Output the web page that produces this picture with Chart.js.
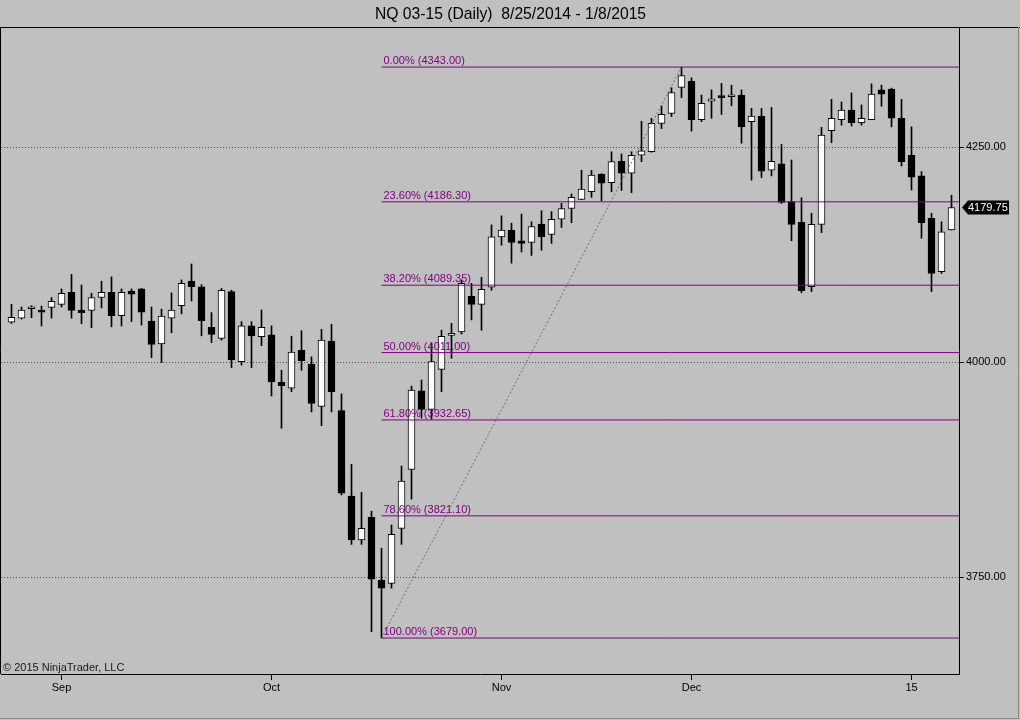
<!DOCTYPE html>
<html>
<head>
<meta charset="utf-8">
<script src="https://cdn.jsdelivr.net/npm/chart.js@4.4.1/dist/chart.umd.min.js"></script>
<style>
  html, body { margin: 0; padding: 0; background: #c0c0c0; }
  #wrap { width: 1020px; height: 720px; }
</style>
</head>
<body>
<div id="wrap"><canvas id="nqChart" width="1020" height="720"></canvas></div>
<script>
// NQ 03-15 daily bars, 8/25/2014 - 1/8/2015 (one entry per session)
const opens = [
  4046.5, 4051, 4062, 4060.5, 4063.5, 4067, 4081, 4060.5, 4060, 4075,
  4081, 4054, 4082.5, 4085, 4047.5, 4021, 4051, 4065.5, 4094, 4087.5,
  4040.5, 4027.5, 4082, 4000.5, 4042, 4029.5, 4031.5, 3976.5, 3969.5, 4014,
  3997.5, 3948.5, 4024.5, 3943.5, 3844, 3793, 3819.5, 3746.5, 3742.5, 3806.5,
  3875, 3966.5, 3945, 3991.5, 4031, 4035, 4076.5, 4067, 4087, 4145.5,
  4153.5, 4141, 4139, 4160.5, 4148.5, 4166, 4178.5, 4189, 4198, 4218.5,
  4208.5, 4233.5, 4219.5, 4240.5, 4244.5, 4277.5, 4289, 4319.5, 4326.5, 4282,
  4303.5, 4309, 4308.5, 4310.5, 4279.5, 4286, 4223, 4230.5, 4186.5, 4162.5,
  4087.5, 4160, 4269, 4282, 4293, 4278.5, 4282, 4316.5, 4317.5, 4283.5,
  4240.5, 4216.5, 4167, 4105, 4153.5
];
const highs = [
  4067, 4064, 4065.5, 4065, 4075, 4085, 4102, 4089.5, 4080, 4094,
  4099, 4085, 4085, 4085.5, 4064, 4061.5, 4080.5, 4095.5, 4114, 4090,
  4057.5, 4085.5, 4083.5, 4047, 4047, 4060.5, 4042, 3990.5, 4030, 4036.5,
  4006, 4038, 4044, 3963, 3881, 3848.5, 3826.5, 3783.5, 3810.5, 3879,
  3972, 3979, 4021.5, 4037, 4045, 4095.5, 4091.5, 4098.5, 4159.5, 4170,
  4161.5, 4172, 4163, 4176, 4175, 4184.5, 4195.5, 4223, 4223, 4219,
  4244.5, 4242, 4244.5, 4280, 4283.5, 4298, 4319, 4343, 4330.5, 4310.5,
  4316.5, 4324, 4322, 4316.5, 4295, 4295, 4296, 4253, 4235, 4191,
  4173, 4273, 4305.5, 4302.5, 4313, 4299, 4323.5, 4322, 4318.5, 4305.5,
  4273.5, 4221.5, 4173, 4163, 4194
];
const lows = [
  4045, 4050, 4051.5, 4042, 4051, 4064, 4051, 4044.5, 4040, 4063,
  4041, 4042, 4047, 4043, 4005, 3999.5, 4034, 4056, 4071, 4030.5,
  4022.5, 4025.5, 3993.5, 3996.5, 3993.5, 4019, 3960.5, 3923, 3965.5, 3990.5,
  3942, 3926, 3942, 3845.5, 3788, 3788, 3686.5, 3679, 3737, 3788,
  3840.5, 3935, 3933.5, 3965.5, 4004.5, 4032.5, 4049, 4037, 4083.5, 4136,
  4115, 4128, 4124, 4130, 4138, 4156.5, 4162, 4189, 4191.5, 4187.5,
  4198, 4199.5, 4197, 4233, 4244, 4271.5, 4285.5, 4307.5, 4268.5, 4279.5,
  4283.5, 4288, 4298, 4254.5, 4211.5, 4214.5, 4216.5, 4184.5, 4141, 4080.5,
  4082, 4150.5, 4255, 4275.5, 4274.5, 4275.5, 4282, 4297.5, 4273.5, 4228,
  4200, 4144, 4082, 4103, 4153.5
];
const closes = [
  4052, 4060.5, 4062.5, 4058, 4070.5, 4080, 4060, 4057.5, 4075, 4081,
  4054, 4081, 4079, 4058, 4020.5, 4053.5, 4060.5, 4091.5, 4087.5, 4048,
  4032, 4083.5, 4002.5, 4042, 4030.5, 4040.5, 3977, 3972.5, 4011.5, 4001.5,
  3952, 4025.5, 3965.5, 3847.5, 3793, 3806.5, 3747.5, 3737, 3799.5, 3861.5,
  3967.5, 3945, 4000.5, 4030, 4033, 4091.5, 4067, 4084.5, 4145.5, 4153.5,
  4139, 4138, 4157.5, 4145.5, 4166, 4178.5, 4191.5, 4201, 4217.5, 4208,
  4233, 4219.5, 4240.5, 4245.5, 4277.5, 4288, 4313.5, 4333, 4282, 4301,
  4306, 4307.5, 4308.5, 4273.5, 4286, 4222, 4233.5, 4185.5, 4160, 4083,
  4160, 4264, 4283.5, 4293, 4278.5, 4283.5, 4311.5, 4311.5, 4283.5, 4233,
  4215, 4162, 4103, 4151.5, 4179.75
];

// x axis month labels (bar index of first session of each month)
const monthTickIdx = [5, 26, 49, 68, 90];
const monthTickLabels = ['Sep', 'Oct', 'Nov', 'Dec', '15'];

// right price axis
const yTickValues = [3750, 4000, 4250];

// Fibonacci retracement, anchored at bar 37 low -> bar 67 high
const fibPcts = ['0.00%', '23.60%', '38.20%', '50.00%', '61.80%', '78.60%', '100.00%'];
const fibValues = [4343.00, 4186.30, 4089.35, 4011.00, 3932.65, 3821.10, 3679.00];
const fibAnchorIdx = [37, 67];
const fibAnchorPrice = [3679.00, 4343.00];

const X_MIN = -1.05, X_MAX = 94.75;
const FONT = '"Liberation Sans", Arial, sans-serif';
const FIB_COLOR = '#800080';

const wickData = lows.map((l, i) => ({ x: i, y: [l, highs[i]] }));
const bodyData = opens.map((o, i) => ({ x: i, y: [o, closes[i]] }));
const bodyFill = opens.map((o, i) => closes[i] >= o ? '#ffffff' : '#000000');

const fibDatasets = fibValues.map((v, k) => ({
    type: 'line',
    label: fibPcts[k],
    data: [{ x: fibAnchorIdx[0], y: v }, { x: X_MAX, y: v }],
    borderColor: FIB_COLOR,
    borderWidth: 1,
    pointRadius: 0,
    fill: false
}));

// draws the frame, fib labels, copyright and the last price marker
const decorPlugin = {
    id: 'decor',
    afterDraw(chart) {
        const ctx = chart.ctx;
        const area = chart.chartArea;
        const xs = chart.scales.x, ys = chart.scales.y;
        ctx.save();

        // window frame
        ctx.strokeStyle = '#000';
        ctx.lineWidth = 1;
        ctx.beginPath();
        ctx.moveTo(0, 27.5); ctx.lineTo(chart.width, 27.5);
        ctx.moveTo(0.5, 27); ctx.lineTo(0.5, area.bottom);
        ctx.stroke();
        ctx.strokeStyle = '#8a8a8a';
        ctx.beginPath();
        ctx.moveTo(0, chart.height - 1.5); ctx.lineTo(chart.width - 1.5, chart.height - 1.5);
        ctx.lineTo(chart.width - 1.5, 27);
        ctx.stroke();

        // fib labels
        ctx.font = '11px ' + FONT;
        ctx.fillStyle = FIB_COLOR;
        ctx.textAlign = 'left';
        ctx.textBaseline = 'alphabetic';
        fibValues.forEach((v, k) => {
            const px = xs.getPixelForValue(fibAnchorIdx[0]) + 2;
            const py = ys.getPixelForValue(v) - 3;
            ctx.fillText(fibPcts[k] + ' (' + v.toFixed(2) + ')', px, py);
        });

        // copyright
        ctx.fillStyle = '#1a1a1a';
        ctx.fillText('\u00a9 2015 NinjaTrader, LLC', 3, area.bottom - 3);

        // last price marker
        const last = closes[closes.length - 1];
        const py = Math.round(ys.getPixelForValue(last)) + 0.5;
        const x0 = area.right + 3;
        ctx.fillStyle = '#000';
        ctx.beginPath();
        ctx.moveTo(x0, py);
        ctx.lineTo(x0 + 6, py - 7);
        ctx.lineTo(x0 + 47, py - 7);
        ctx.lineTo(x0 + 47, py + 7);
        ctx.lineTo(x0 + 6, py + 7);
        ctx.closePath();
        ctx.fill();
        ctx.fillStyle = '#fff';
        ctx.textBaseline = 'middle';
        ctx.fillText(last.toFixed(2), x0 + 6, py + 0.5);

        ctx.restore();
    }
};

const ctx = document.getElementById('nqChart').getContext('2d');
const chart = new Chart(ctx, {
    type: 'bar',
    data: {
        datasets: [
            ...fibDatasets,
            {
                type: 'line',
                label: 'fib anchor',
                data: [
                    { x: fibAnchorIdx[0], y: fibAnchorPrice[0] },
                    { x: fibAnchorIdx[1], y: fibAnchorPrice[1] }
                ],
                borderColor: '#6e6e6e',
                borderWidth: 1,
                borderDash: [2, 2],
                pointRadius: 0,
                fill: false
            },
            {
                label: 'body',
                data: bodyData,
                backgroundColor: bodyFill,
                borderColor: '#000',
                borderWidth: 1,
                borderSkipped: false,
                barThickness: 7,
                minBarLength: 2,
                grouped: false
            },
            {
                label: 'wick',
                data: wickData,
                backgroundColor: '#000',
                borderWidth: 0,
                barThickness: 1,
                grouped: false
            }
        ]
    },
    options: {
        responsive: false,
        animation: false,
        events: [],
        layout: { padding: { left: 1, right: 0, top: 0, bottom: 0 } },
        plugins: {
            legend: { display: false },
            tooltip: { enabled: false },
            title: {
                display: true,
                text: 'NQ 03-15 (Daily)  8/25/2014 - 1/8/2015',
                color: '#000',
                font: { family: FONT, size: 15.7, weight: 'normal', lineHeight: 1.15 },
                padding: { top: 6, bottom: 4 }
            }
        },
        scales: {
            x: {
                type: 'linear',
                min: X_MIN,
                max: X_MAX,
                offset: false,
                grid: { display: true, drawOnChartArea: false, drawTicks: true, tickLength: 6, tickColor: '#000', offset: false },
                border: { display: true, color: '#000', width: 1 },
                ticks: {
                    autoSkip: false,
                    maxRotation: 0,
                    padding: 1,
                    color: '#000',
                    font: { family: FONT, size: 11 },
                    callback: (value, index) => monthTickLabels[index]
                },
                afterBuildTicks: (scale) => {
                    scale.ticks = monthTickIdx.map(v => ({ value: v }));
                },
                afterFit: (scale) => { scale.height = 46; }
            },
            y: {
                type: 'linear',
                position: 'right',
                min: 3637.2,
                max: 4388.4,
                beginAtZero: false,
                grid: { color: '#505050', drawTicks: true, tickLength: 5, tickColor: '#000' },
                border: { display: true, color: '#000', width: 1, dash: [1, 2] },
                ticks: {
                    padding: 2,
                    color: '#000',
                    font: { family: FONT, size: 11 },
                    callback: (value) => value.toFixed(2)
                },
                afterBuildTicks: (scale) => {
                    scale.ticks = yTickValues.map(v => ({ value: v }));
                },
                afterFit: (scale) => { scale.width = 61; }
            }
        }
    },
    plugins: [decorPlugin]
});
</script>
</body>
</html>
